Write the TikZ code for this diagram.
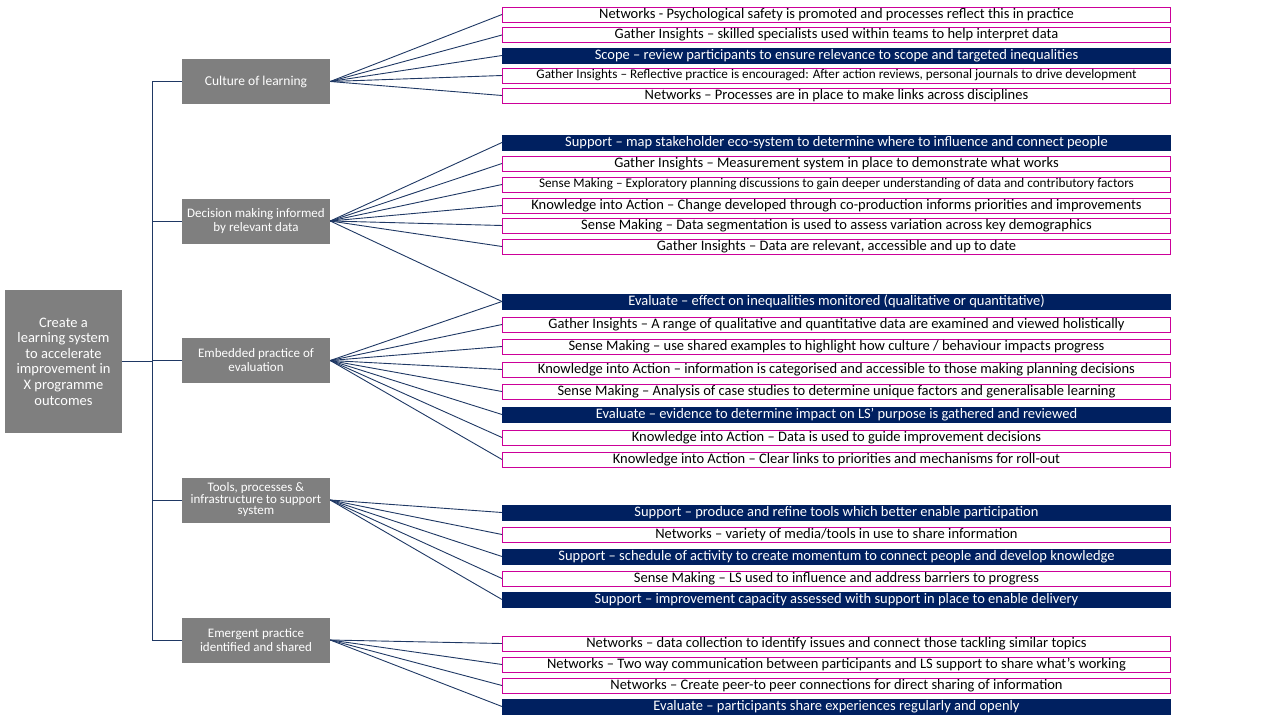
\documentclass[tikz,border=0pt]{standalone}
\usepackage{fontspec}
\setmainfont{Carlito}
\definecolor{navy}{HTML}{002060}
\definecolor{pinkline}{HTML}{CC0099}
\definecolor{catgrey}{HTML}{7F7F7F}
\definecolor{linkblue}{HTML}{1F3864}
\begin{document}
\begin{tikzpicture}[x=1pt,y=-1pt,
	link/.style={draw=linkblue,line width=0.9pt},
	cat/.style={fill=catgrey,text=white,minimum width=148pt,minimum height=45pt,inner sep=1pt,align=center,font=\fontsize{13}{14}\selectfont},
	item/.style={draw=pinkline,line width=1pt,fill=white,anchor=west,minimum width=668pt,minimum height=15pt,inner sep=0pt,font=\fontsize{14.5}{15}\selectfont},
	keyitem/.style={item,draw=navy,fill=navy,text=white},
	small/.style={font=\fontsize{13.2}{14}\selectfont}]
	\useasboundingbox (0,0) rectangle (1280,720);
	\node[fill=catgrey,text=white,minimum width=117pt,minimum height=143pt,inner sep=1pt,align=center,font=\fontsize{14.5}{15.6}\selectfont] (root) at (63.5,361.5)
		{Create a\\learning system\\to accelerate\\improvement in\\X programme\\outcomes};
	\node[cat,font=\fontsize{13.5}{14}\selectfont] (cul) at (256,81.5) {Culture of learning};
	\node[cat] (dec) at (256,221) {Decision making informed\\by relevant data};
	\node[cat] (emb) at (256,360.5) {Embedded practice of\\evaluation};
	\node[cat,font=\fontsize{13}{11.5}\selectfont] (too) at (256,500) {Tools, processes \&\\infrastructure to support\\system};
	\node[cat] (eme) at (256,640) {Emergent practice\\identified and shared};
	\coordinate (bus) at (152,361.5);
	\draw[link] (root.east) -- (bus);
	\foreach \c in {cul,dec,emb,too,eme} \draw[link] (bus) |- (\c.west);
	% culture of learning
	\node[item] (i1) at (502,14.5) {Networks - Psychological safety is promoted and processes reflect this in practice};
	\node[item] (i2) at (502,35) {Gather Insights -- skilled specialists used within teams to help interpret data};
	\node[keyitem] (i3) at (502,55.5) {Scope -- review participants to ensure relevance to scope and targeted inequalities};
	\node[item,small] (i4) at (502,75.5) {Gather Insights -- Reflective practice is encouraged: After action reviews, personal journals to drive development};
	\node[item] (i5) at (502,95.5) {Networks -- Processes are in place to make links across disciplines};
	% decision making
	\node[keyitem] (i6) at (502,142.5) {Support -- map stakeholder eco-system to determine where to influence and connect people};
	\node[item] (i7) at (502,163.5) {Gather Insights -- Measurement system in place to demonstrate what works};
	\node[item,small] (i8) at (502,184.5) {Sense Making -- Exploratory planning discussions to gain deeper understanding of data and contributory factors};
	\node[item] (i9) at (502,205.5) {Knowledge into Action -- Change developed through co-production informs priorities and improvements};
	\node[item] (i10) at (502,225.5) {Sense Making -- Data segmentation is used to assess variation across key demographics};
	\node[item] (i11) at (502,246.5) {Gather Insights -- Data are relevant, accessible and up to date};
	% embedded practice
	\node[keyitem] (i12) at (502,301.5) {Evaluate -- effect on inequalities monitored (qualitative or quantitative)};
	\node[item] (i13) at (502,324.5) {Gather Insights -- A range of qualitative and quantitative data are examined and viewed holistically};
	\node[item] (i14) at (502,346.5) {Sense Making -- use shared examples to highlight how culture / behaviour impacts progress};
	\node[item] (i15) at (502,369.5) {Knowledge into Action -- information is categorised and accessible to those making planning decisions};
	\node[item] (i16) at (502,391.5) {Sense Making -- Analysis of case studies to determine unique factors and generalisable learning};
	\node[keyitem] (i17) at (502,414.5) {Evaluate -- evidence to determine impact on LS' purpose is gathered and reviewed};
	\node[item] (i18) at (502,437.5) {Knowledge into Action -- Data is used to guide improvement decisions};
	\node[item] (i19) at (502,459.5) {Knowledge into Action -- Clear links to priorities and mechanisms for roll-out};
	% tools
	\node[keyitem] (i20) at (502,512.5) {Support -- produce and refine tools which better enable participation};
	\node[item] (i21) at (502,534.5) {Networks -- variety of media/tools in use to share information};
	\node[keyitem] (i22) at (502,556.5) {Support -- schedule of activity to create momentum to connect people and develop knowledge};
	\node[item] (i23) at (502,578.5) {Sense Making -- LS used to influence and address barriers to progress};
	\node[keyitem] (i24) at (502,599.5) {Support -- improvement capacity assessed with support in place to enable delivery};
	% emergent practice
	\node[item] (i25) at (502,643.5) {Networks -- data collection to identify issues and connect those tackling similar topics};
	\node[item] (i26) at (502,664.5) {Networks -- Two way communication between participants and LS support to share what's working};
	\node[item] (i27) at (502,685.5) {Networks -- Create peer-to peer connections for direct sharing of information};
	\node[keyitem] (i28) at (502,706.5) {Evaluate -- participants share experiences regularly and openly};
	% connectors
	\foreach \t in {1,...,5} \draw[link] (cul.east) -- (i\t.west);
	\foreach \t in {6,...,12} \draw[link] (dec.east) -- (i\t.west);
	\foreach \t in {12,...,19} \draw[link] (emb.east) -- (i\t.west);
	\foreach \t in {20,...,24} \draw[link] (too.east) -- (i\t.west);
	\foreach \t in {25,...,28} \draw[link] (eme.east) -- (i\t.west);
\end{tikzpicture}
\end{document}
